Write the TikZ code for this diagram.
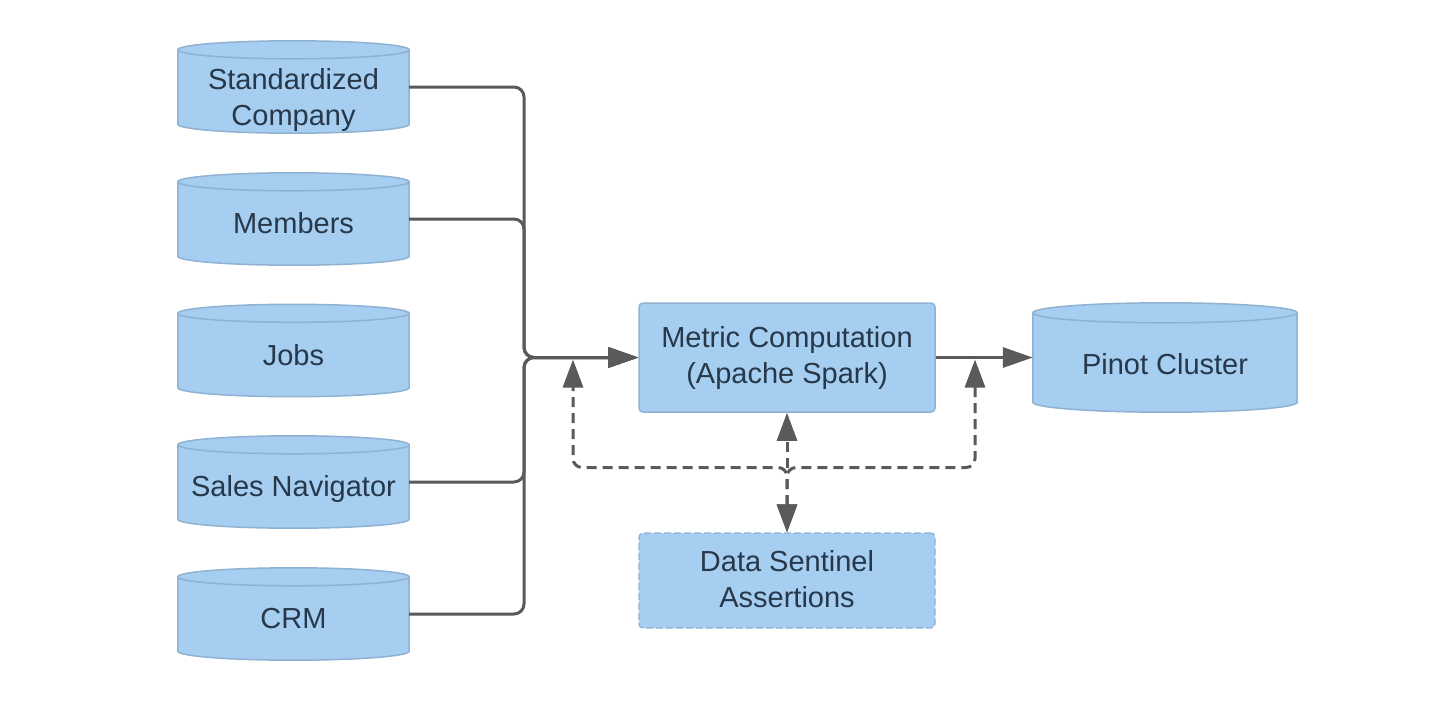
\documentclass[tikz,border=0pt]{standalone}
\usepackage{fontspec}
\setmainfont{Liberation Sans}
\usetikzlibrary{arrows.meta,calc}
\pgfdeclarelayer{background}
\pgfdeclarelayer{canvas}
\pgfsetlayers{canvas,background,main}
\definecolor{boxfill}{HTML}{A6CEF0}
\definecolor{boxline}{HTML}{8FB2D2}
\definecolor{txt}{HTML}{27384A}
\definecolor{conn}{HTML}{5A5A5A}
\newcommand\tops[1]{\rule{0pt}{#1}}
\newcommand\bots{\rule[-7pt]{0pt}{7pt}}
\newcommand\dbcyl[2]{%
  \begin{pgfonlayer}{background}
    \path[dbshape] let \p1=(#1.north west), \p2=(#1.south east), \p3=(#1.north), \n1={(\x2-\x1)/2} in
      (\x1,\y1-#2) -- (\x1,\y2+#2)
      arc[start angle=180,end angle=360,x radius={\n1*1pt},y radius=#2]
      -- (\x2,\y1-#2)
      arc[start angle=0,end angle=180,x radius={\n1*1pt},y radius=#2] -- cycle
      (\x3,\y1-#2) ellipse[x radius={\n1*1pt},y radius=#2];
  \end{pgfonlayer}}
\tikzset{
  x=1pt, y=-1pt,
  mytip/.tip={Triangle[length=28pt,width=20pt]},
  bigtip/.tip={Triangle[length=30pt,width=20pt]},
  basetext/.style={inner sep=0pt, align=center, text=txt,
    font=\fontsize{29}{36}\selectfont},
  dbnode/.style={basetext, rectangle},
  dbshape/.style={fill=boxfill, draw=boxline, line width=1.5pt},
  procbox/.style={basetext, rectangle, rounded corners=4pt, fill=boxfill,
    draw=boxline, line width=1.5pt},
  checkbox/.style={basetext, rectangle, rounded corners=4pt, fill=boxfill,
    draw=boxline, line width=1.3pt, dash pattern=on 7pt off 3pt},
  conn/.style={draw=conn, line width=3pt, rounded corners=10pt, -{bigtip}},
  dashconn/.style={draw=conn, line width=3pt, rounded corners=9pt,
    dash pattern=on 10pt off 6pt}
}
\begin{document}
\begin{tikzpicture}
  \begin{pgfonlayer}{canvas}
    \fill[white] (0,0) rectangle (1434,710);
  \end{pgfonlayer}
  \useasboundingbox (0,0) rectangle (1434,710);

  % source databases
  \node[dbnode, minimum width=231pt, minimum height=92pt] (sc) at (293.5,87)
    {\tops{48.8pt}Standardized\\Company\bots};
  \node[dbnode, minimum width=231pt, minimum height=92pt] (mem) at (293.5,219)
    {\tops{36.8pt}Members\bots};
  \node[dbnode, minimum width=231pt, minimum height=92pt] (jobs) at (293.5,350.5)
    {\tops{36.8pt}Jobs\bots};
  \node[dbnode, minimum width=231pt, minimum height=92pt] (sn) at (293.5,482)
    {\tops{36.8pt}Sales Navigator\bots};
  \node[dbnode, minimum width=231pt, minimum height=92pt] (crm) at (293.5,614)
    {\tops{36.8pt}CRM\bots};

  % processing
  \node[procbox, minimum width=296pt, minimum height=109pt] (metric) at (787,357.5)
    {\tops{23.4pt}Metric Computation\\(Apache Spark)\bots};
  \node[checkbox, minimum width=296pt, minimum height=95pt] (ds) at (787,580.5)
    {\tops{25.4pt}Data Sentinel\\Assertions\bots};

  % sink
  \node[dbnode, minimum width=264pt, minimum height=109pt] (pinot) at (1165,357.5)
    {\tops{41.8pt}Pinot Cluster\bots};

  \dbcyl{sc}{9pt}
  \dbcyl{mem}{9pt}
  \dbcyl{jobs}{9pt}
  \dbcyl{sn}{9pt}
  \dbcyl{crm}{9pt}
  \dbcyl{pinot}{10pt}

  % solid connectors
  \coordinate (jx) at (524,357.5);
  \draw[conn] (sc.east) -| (jx) -- (metric.west);
  \draw[conn] (mem.east) -| (jx) -- (metric.west);
  \draw[conn] (sn.east) -| (jx) -- (metric.west);
  \draw[conn] (crm.east) -| (jx) -- (metric.west);
  \draw[conn] (metric.east) -- (pinot.west);

  % dashed assertion connectors
  \coordinate (dl) at (573,467.5);
  \coordinate (dr) at (975,467.5);
  \coordinate (tl) at (573,359.5);
  \coordinate (tr) at (975,359.5);
  \coordinate (dj) at (787,467.5);
  \draw[dashconn, {mytip}-{mytip}] (ds.north) |- (dl) -- (tl);
  \draw[dashconn, {mytip}-{mytip}] (ds.north) |- (dr) -- (tr);
  \draw[dashconn, -{mytip}] (dj) -- (metric.south);
\end{tikzpicture}
\end{document}
